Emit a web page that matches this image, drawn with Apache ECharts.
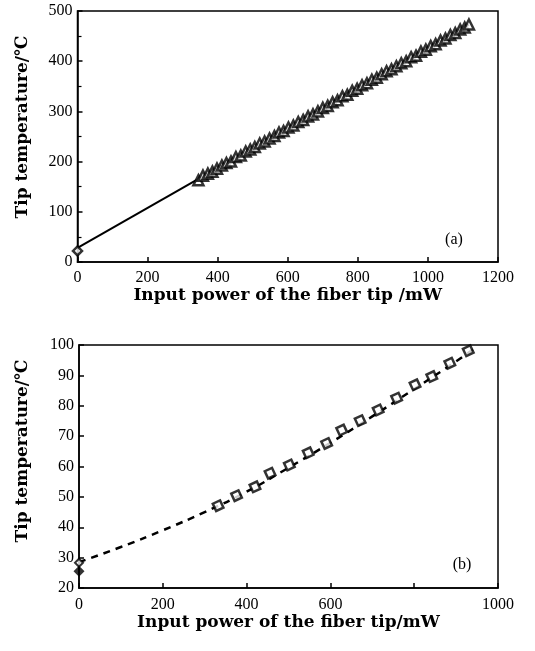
<!DOCTYPE html>
<html><head><meta charset="utf-8">
<script src="https://cdn.jsdelivr.net/npm/echarts@6/dist/echarts.min.js"></script>
<style>html,body{margin:0;padding:0;background:#fff}#c{width:535px;height:651px}</style>
</head><body><div id="c"></div>
<script>
// Panel (a): input power (mW) vs tip temperature (°C)
const aTriX = [345,358,372,385,398,412,425,438,452,466,480,493,506,520,534,548,562,575,588,602,616,630,644,658,672,686,700,714,728,742,756,770,784,798,812,826,840,854,868,882,896,910,924,938,952,966,980,994,1008,1022,1036,1050,1064,1078,1092,1105,1117];
const aTriY = [163,172,176,180,186,192,197,200,209,212,220,224,229,236,240,246,251,258,261,268,272,279,283,290,294,300,307,311,318,322,330,333,341,345,352,356,363,367,374,380,384,390,396,400,408,411,419,423,430,434,441,445,452,456,463,467,473];
const aZeroX = [0];
const aZeroY = [22];
const aFitX = [0,1117];
const aFitY = [28,473];
const aXTicks = [0,200,400,600,800,1000,1200];
const aYTicks = [0,100,200,300,400,500];

// Panel (b)
const bPtX = [332,376,420,456,502,547,591,627,671,714,758,802,842,885,929];
const bPtY = [47.1,50.4,53.3,57.8,60.5,64.5,67.6,72.0,75.1,78.6,82.5,86.9,89.6,94.0,98.1];
const bZeroHollow = [[0,28.3]];
const bZeroFilled = [[0,25.5]];
const bCurveX = [0,100,200,300,400,500,600,700,800,900,945];
const bCurveY = [28.5,33.5,39,45,51.7,59.6,67.8,76.5,85.5,94.6,99];
const bXTicks = [0,200,400,600,800,1000];
const bXLabels = ['0','200','400','600','','1000'];
const bYTicks = [20,30,40,50,60,70,80,90,100];

const zip = (xs, ys) => xs.map((x, i) => [x, ys[i]]);
const FONT = '"Liberation Serif","DejaVu Serif",serif';
const NFONT = '"DejaVu Serif","Liberation Serif",serif';
const lbl = {color:'#000', fontFamily:FONT, fontSize:16};
const axLine = {show:true, onZero:false, lineStyle:{color:'#000', width:1.5}};
const tick = {show:true, inside:true, length:5, lineStyle:{color:'#000', width:1.5}};
const nameStyle = {color:'#000', fontFamily:NFONT, fontSize:17, fontWeight:'bold'};

const chart = echarts.init(document.getElementById('c'), null, {renderer:'canvas'});
chart.setOption({
  animation:false,
  backgroundColor:'#fff',
  grid:[
    {left:77.5, top:11, width:420.5, height:251, show:true, borderColor:'#000', borderWidth:1.5},
    {left:79, top:345, width:419, height:243, show:true, borderColor:'#000', borderWidth:1.5}
  ],
  xAxis:[
    {gridIndex:0, type:'value', min:aXTicks[0], max:aXTicks[aXTicks.length-1], interval:200,
     axisLine:axLine, axisTick:tick, splitLine:{show:false},
     axisLabel:Object.assign({margin:8, formatter:v => String(v)}, lbl),
     name:'Input power of the fiber tip /mW', nameLocation:'middle', nameGap:24,
     nameTextStyle:nameStyle},
    {gridIndex:1, type:'value', min:bXTicks[0], max:bXTicks[bXTicks.length-1], interval:200,
     axisLine:axLine, axisTick:tick, splitLine:{show:false},
     axisLabel:Object.assign({margin:9, formatter:v => bXLabels[bXTicks.indexOf(v)] ?? ''}, lbl),
     name:'Input power of the fiber tip/mW', nameLocation:'middle', nameGap:25,
     nameTextStyle:nameStyle}
  ],
  yAxis:[
    {gridIndex:0, type:'value', min:aYTicks[0], max:aYTicks[aYTicks.length-1], interval:100,
     axisLine:axLine, axisTick:tick, splitLine:{show:false},
     minorTick:{show:true, splitNumber:2, length:4, lineStyle:{color:'#000', width:1.2}},
     axisLabel:Object.assign({margin:5, formatter:v => String(v)}, lbl)},
    {gridIndex:1, type:'value', min:bYTicks[0], max:bYTicks[bYTicks.length-1], interval:10,
     axisLine:axLine, axisTick:tick, splitLine:{show:false},
     axisLabel:Object.assign({margin:5}, lbl)}
  ],
  graphic:[
    {type:'text', x:23, y:127, rotation:Math.PI/2,
     style:{text:'Tip temperature/℃', fill:'#000', font:'bold 17px '+NFONT, textAlign:'center', textVerticalAlign:'middle'}},
    {type:'text', x:23, y:451, rotation:Math.PI/2,
     style:{text:'Tip temperature/℃', fill:'#000', font:'bold 17px '+NFONT, textAlign:'center', textVerticalAlign:'middle'}},
    {type:'text', x:454, y:240,
     style:{text:'(a)', fill:'#000', font:'16px '+FONT, textAlign:'center', textVerticalAlign:'middle'}},
    {type:'text', x:462, y:565,
     style:{text:'(b)', fill:'#000', font:'16px '+FONT, textAlign:'center', textVerticalAlign:'middle'}}
  ],
  series:[
    {type:'line', xAxisIndex:0, yAxisIndex:0, data:zip(aFitX, aFitY), showSymbol:false,
     lineStyle:{color:'#000', width:2}, z:2},
    {type:'scatter', xAxisIndex:0, yAxisIndex:0, data:zip(aTriX, aTriY), symbol:'triangle', symbolSize:10,
     itemStyle:{color:'#fff', borderColor:'#000', borderWidth:2.5}, z:3},
    {type:'scatter', xAxisIndex:0, yAxisIndex:0, data:zip(aZeroX, aZeroY), symbol:'diamond', symbolSize:9,
     itemStyle:{color:'#fff', borderColor:'#000', borderWidth:2.5}, z:3},
    {type:'line', xAxisIndex:1, yAxisIndex:1, data:zip(bCurveX, bCurveY), showSymbol:false, smooth:true,
     lineStyle:{color:'#000', width:2.5, type:[7,6]}, z:2},
    {type:'scatter', xAxisIndex:1, yAxisIndex:1, data:zip(bPtX, bPtY), symbol:'rect', symbolSize:8, symbolRotate:25,
     itemStyle:{color:'#fff', borderColor:'#000', borderWidth:2.5}, z:3},
    {type:'scatter', xAxisIndex:1, yAxisIndex:1, data:bZeroHollow, symbol:'diamond', symbolSize:8,
     itemStyle:{color:'#fff', borderColor:'#000', borderWidth:2}, z:4},
    {type:'scatter', xAxisIndex:1, yAxisIndex:1, data:bZeroFilled, symbol:'diamond', symbolSize:11,
     itemStyle:{color:'#000'}, z:3}
  ]
});
</script></body></html>
